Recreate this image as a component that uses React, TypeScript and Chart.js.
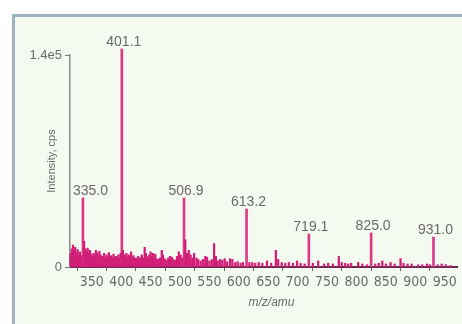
import React, { useEffect, useRef } from "react";
import { Chart, registerables } from "chart.js";

Chart.register(...registerables);

// Major labelled peaks (m/z, intensity in cps)
const MAJOR_MZ = [335.0, 401.1, 506.9, 613.2, 719.1, 825.0, 931.0];
const MAJOR_INT = [45600, 144000, 45600, 38300, 21800, 22500, 19800];
const MAJOR_LABELS = ["335.0", "401.1", "506.9", "613.2", "719.1", "825.0", "931.0"];

// Minor peaks / chemical noise (m/z, intensity)
const MINOR_MZ = [
  314, 316, 318, 320, 322, 324, 326, 328, 330, 332, 337, 339, 341, 343, 345, 347, 349, 351, 353, 355,
  357, 359, 361, 363, 365, 367, 369, 371, 373, 375, 377, 379, 381, 383, 385, 387, 389, 391, 393, 395,
  397, 399, 403, 405, 407, 409, 411, 413, 415, 417, 419, 421, 423, 425, 427, 429, 431, 433, 435, 437,
  440, 442, 444, 446, 448, 450, 452, 454, 456, 458, 460, 463, 466, 469, 471, 474, 477, 480, 483, 486,
  489, 492, 495, 498, 501, 504, 509, 512, 515, 518, 521, 524, 528, 531, 535, 539, 543, 546, 550, 554,
  558, 561, 564, 568, 572, 576, 580, 585, 589, 594, 598, 603, 607, 618, 623, 628, 634, 640, 648, 655,
  663, 667, 673, 679, 685, 692, 699, 705, 712, 726, 735, 745, 752, 760, 770, 775, 781, 786, 791, 803,
  810, 818, 832, 838, 844, 850, 858, 865, 875, 880, 887, 894, 905, 912, 920, 925, 938, 945, 952, 960,
];
const MINOR_INT = [
  9000, 12000, 14500, 11000, 13000, 9500, 11500, 8000, 10000, 7500, 17000, 12000, 10500, 12500, 9000, 11000, 8500, 7000, 9000, 8000,
  11000, 9500, 7500, 10500, 8000, 6500, 7000, 9000, 6000, 8000, 7000, 9500, 6500, 7500, 6000, 8500, 6500, 7000, 5500, 8000,
  6000, 9000, 11000, 8000, 7500, 9000, 6500, 8000, 7000, 10000, 6500, 7500, 5500, 6000, 5000, 7000, 5500, 6000, 8000, 6000,
  13000, 9000, 7000, 5500, 8000, 10000, 7000, 9000, 6000, 8500, 5500, 5000, 6000, 11000, 8000, 5500, 4500, 6000, 7000, 6500,
  5000, 4500, 7000, 10000, 8000, 6000, 18000, 9000, 11000, 8000, 6000, 9000, 6000, 5000, 4000, 5000, 7000, 6500, 4000, 5000,
  15500, 7000, 4000, 5000, 4500, 5500, 3500, 5500, 5000, 3000, 3500, 2500, 3000, 3000, 3000, 2500, 3000, 2500, 4000, 2500,
  11000, 5000, 3000, 2500, 3000, 2500, 4000, 2500, 2000, 2500, 4000, 2000, 2500, 2000, 7000, 3000, 2500, 2000, 2500, 3000,
  2000, 1500, 2000, 2500, 4000, 2000, 3000, 2000, 5500, 2500, 2000, 2000, 1500, 1500, 2000, 1500, 1500, 2000, 1500, 1000,
];

const X_TICKS = [350, 400, 450, 500, 550, 600, 650, 700, 750, 800, 850, 900, 950];
const Y_TICKS = [0, 140000];
const Y_TICK_LABELS = ["0", "1.4e5"];
const X_TITLE = "m/z/amu";
const Y_TITLE = "Intensity, cps";

const SANS = "'Liberation Sans', Arial, sans-serif";
const NARROW = "'Liberation Sans Narrow', 'Arial Narrow', 'DejaVu Sans Condensed', sans-serif";

export default function App() {
  const ref = useRef<HTMLCanvasElement | null>(null);

  useEffect(() => {
    document.documentElement.style.overflow = "hidden";
    document.body.style.overflow = "hidden";
    document.body.style.margin = "0";
    if (!ref.current) return;

    const labelPlugin = {
      id: "peakLabels",
      afterDraw(chart: any) {
        const { ctx, chartArea } = chart;
        const xs = chart.scales.x;
        const ys = chart.scales.y;
        ctx.save();
        ctx.fillStyle = "#6a6a6a";
        ctx.font = `14px ${SANS}`;
        ctx.textBaseline = "alphabetic";
        ctx.textAlign = "center";
        MAJOR_MZ.forEach((mz, i) => {
          const text = MAJOR_LABELS[i];
          const w = ctx.measureText(text).width;
          let cx = xs.getPixelForValue(mz) + 2;
          if (cx - w / 2 < chartArea.left + 3) cx = chartArea.left + 3 + w / 2;
          const py = ys.getPixelForValue(MAJOR_INT[i]);
          ctx.fillText(text, cx, py - 3);
        });
        // axis titles
        ctx.fillStyle = "#6a6a6a";
        ctx.font = `italic 12px ${SANS}`;
        ctx.textBaseline = "middle";
        ctx.fillText(X_TITLE, (chartArea.left + chartArea.right) / 2 + 8, 303);
        ctx.translate(52, (chartArea.top + chartArea.bottom) / 2);
        ctx.rotate(-Math.PI / 2);
        ctx.font = `11px ${SANS}`;
        ctx.fillText(Y_TITLE, 0, 0);
        ctx.restore();
      },
    };

    const chart = new Chart(ref.current, {
      type: "bar",
      data: {
        datasets: [
          {
            data: MINOR_MZ.map((x, i) => ({ x, y: MINOR_INT[i] })),
            backgroundColor: "#d11f78",
            barThickness: 1.6,
            grouped: false,
            clip: false,
          } as any,
          {
            data: MAJOR_MZ.map((x, i) => ({ x, y: MAJOR_INT[i] })),
            backgroundColor: "#db3a8a",
            barThickness: 2,
            grouped: false,
            clip: false,
          } as any,
        ],
      },
      options: {
        animation: false,
        responsive: false,
        maintainAspectRatio: false,
        layout: { padding: { top: 55, right: 5, left: 0, bottom: 0 } },
        plugins: { legend: { display: false }, tooltip: { enabled: false } },
        scales: {
          x: {
            type: "linear",
            min: 313,
            max: 971,
            offset: false,
            afterFit: (s: any) => {
              s.height = 57;
            },
            afterBuildTicks: (s: any) => {
              s.ticks = X_TICKS.map((v) => ({ value: v }));
            },
            ticks: {
              autoSkip: false,
              maxRotation: 0,
              minRotation: 0,
              padding: 3,
              color: "#6a6a6a",
              font: { family: NARROW, size: 14 },
            },
            grid: { drawOnChartArea: false, drawTicks: true, tickLength: 4, tickColor: "#666", tickWidth: 1 },
            border: { display: true, color: "#6a2a4f", width: 2 },
          },
          y: {
            min: 0,
            max: 140000,
            afterFit: (s: any) => {
              s.width = 70;
            },
            afterBuildTicks: (s: any) => {
              s.ticks = Y_TICKS.map((v) => ({ value: v }));
            },
            ticks: {
              padding: 3,
              color: "#6a6a6a",
              font: { family: SANS, size: 13 },
              callback: (v: any) => {
                const idx = Y_TICKS.indexOf(Number(v));
                return idx >= 0 ? Y_TICK_LABELS[idx] : "";
              },
            },
            grid: { drawOnChartArea: false, drawTicks: true, tickLength: 5, tickColor: "#777", tickWidth: 1 },
            border: { display: true, color: "#8a8a8a", width: 1.5 },
          },
        },
      } as any,
      plugins: [labelPlugin],
    });
    return () => chart.destroy();
  }, []);

  return (
    <div style={{ position: "fixed", left: 0, top: 0, width: 462, height: 324, background: "#ffffff", overflow: "hidden" }}>
      <div
        style={{
          position: "absolute",
          left: 12,
          top: 14,
          width: 480,
          height: 340,
          borderLeft: "3px solid #9fb4bf",
          borderTop: "3px solid #9fb4bf",
          background: "#f5faf1",
        }}
      />
      <canvas ref={ref} width={462} height={324} style={{ position: "absolute", left: 0, top: 0, width: 462, height: 324 }} />
    </div>
  );
}
